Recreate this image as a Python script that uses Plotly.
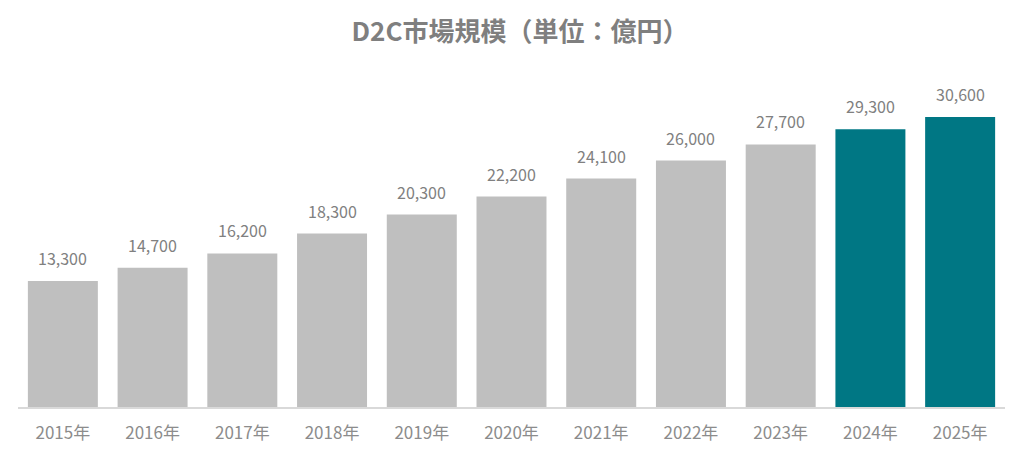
import plotly.graph_objects as go

years = ["2015年", "2016年", "2017年", "2018年", "2019年", "2020年",
         "2021年", "2022年", "2023年", "2024年", "2025年"]
values = [13300, 14700, 16200, 18300, 20300, 22200, 24100, 26000, 27700, 29300, 30600]
bar_colors = ["#BFBFBF"] * 9 + ["#007784"] * 2
value_labels = [f"{v:,}" for v in values]

font_family = "Noto Sans CJK JP, Noto Sans, sans-serif"

fig = go.Figure(go.Bar(
    x=years, y=values,
    marker=dict(color=bar_colors, line=dict(width=0)),
    hoverinfo="x+y",
))

for yr, v, lab in zip(years, values, value_labels):
    fig.add_annotation(x=yr, y=v, text=lab, showarrow=False,
                       yanchor="bottom", yshift=9,
                       font=dict(size=16, color="#808080", family=font_family))

fig.update_layout(
    width=1024, height=457,
    margin=dict(l=10, r=27, t=52, b=58),
    paper_bgcolor="white", plot_bgcolor="white",
    bargap=0.22,
    showlegend=False,
    title=dict(text="<b>D2C市場規模（単位：億円）</b>", x=0.5, xanchor="center",
               y=0.947, yanchor="middle",
               font=dict(size=26, color="#7F7F7F", family=font_family)),
    xaxis=dict(showline=True, linecolor="#D9D9D9", linewidth=2, ticks="",
               ticklabelstandoff=10,
               tickfont=dict(size=17, color="#8C8C8C", family=font_family),
               showgrid=False),
    yaxis=dict(visible=False, range=[0, 36600], showgrid=False, zeroline=False),
)

fig.write_html("out.html")
